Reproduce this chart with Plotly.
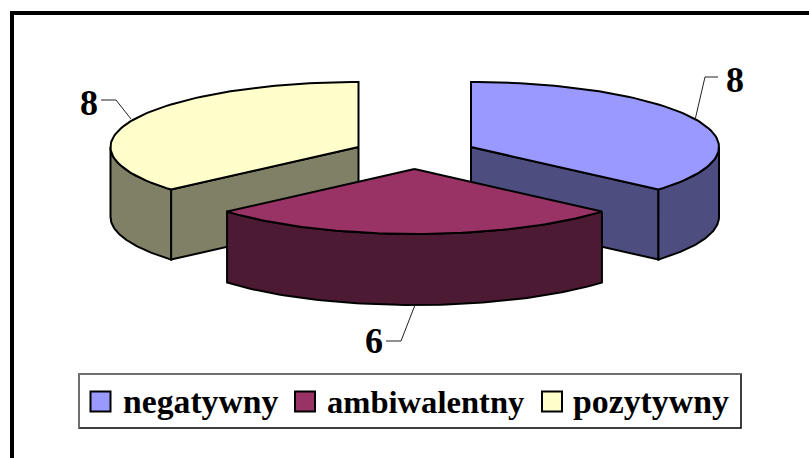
import math
import plotly.graph_objects as go

# Data
categories = ["negatywny", "ambiwalentny", "pozytywny"]
values = [8, 6, 8]

# Styling / geometry
top_colors = ["#9999FF", "#993366", "#FFFFCC"]
side_colors = ["#4D4D80", "#4D1A33", "#808066"]
centers = [(471, 147), (414.5, 169), (358.5, 147)]
depths = [70, 71, 70]
RX, RY = 248, 65
FONT = "Liberation Serif"
W, H = 809, 458

fig = go.Figure()


def pt(c, deg, dz=0):
    r = math.radians(deg)
    return c[0] + RX * math.sin(r), c[1] - RY * math.cos(r) + dz


def arc(c, a, b, dz=0, n=80):
    return [pt(c, a + (b - a) * i / n, dz) for i in range(n + 1)]


def poly(points, color, name):
    xs = [p[0] for p in points] + [points[0][0]]
    ys = [p[1] for p in points] + [points[0][1]]
    fig.add_trace(go.Scatter(x=xs, y=ys, mode="lines", fill="toself", fillcolor=color,
                             line=dict(color="black", width=2), name=name,
                             hoverinfo="skip", showlegend=False))


total = sum(values)
spans = []
acc = 0
for v in values:
    spans.append((acc, acc + v / total * 360))
    acc += v / total * 360

for i in [2, 0, 1]:
    c, (a, b) = centers[i], spans[i]
    d = depths[i]
    # cut faces
    if i == 0:
        poly([c, pt(c, b), pt(c, b, d), (c[0], c[1] + d)], side_colors[i], categories[i])
    if i == 2:
        poly([c, pt(c, a), pt(c, a, d), (c[0], c[1] + d)], side_colors[i], categories[i])
    # outer wall, front-facing part only
    wa, wb = max(a, 90), min(b, 270)
    poly(arc(c, wa, wb) + arc(c, wb, wa, d), side_colors[i], categories[i])
    # top face
    poly([c] + arc(c, a, b), top_colors[i], categories[i])

# Leader lines and data labels
leaders = [
    ([695, 705, 718], [120, 77, 77], 735, 83),
    ([415, 401, 386], [305, 341, 341], 374, 344),
    ([131, 116, 101], [119, 100, 100], 89, 106),
]
for i, (lx, ly, tx, ty) in enumerate(leaders):
    fig.add_trace(go.Scatter(x=lx, y=ly, mode="lines", line=dict(color="#222222", width=1),
                             hoverinfo="skip", showlegend=False))
    fig.add_trace(go.Scatter(x=[tx], y=[ty], mode="text", text=[str(values[i])],
                             textposition="middle center",
                             textfont=dict(family=FONT, size=36, color="black", weight="bold"),
                             hoverinfo="skip", showlegend=False))

# Legend
swatch_x = [100.5, 305, 552]
text_x = [123, 327, 573]
text_sizes = [33.7, 32.6, 33.8]
for i in range(3):
    fig.add_trace(go.Scatter(x=[swatch_x[i]], y=[401.5], mode="markers",
                             marker=dict(symbol="square", size=20, color=top_colors[i],
                                         line=dict(color="black", width=2)),
                             hoverinfo="skip", showlegend=False))
    fig.add_trace(go.Scatter(x=[text_x[i]], y=[405], mode="text", text=[categories[i]],
                             textposition="middle right",
                             textfont=dict(family=FONT, size=text_sizes[i], color="black", weight="bold"),
                             hoverinfo="skip", showlegend=False))

shapes = [
    dict(type="path", path=f"M 12 {H+20} L 12 13 L {W+20} 13", line=dict(color="black", width=4), layer="below"),
    dict(type="rect", x0=79, y0=374, x1=741, y1=428, fillcolor="white", line=dict(color="black", width=1.5), layer="below"),
    dict(type="path", path="M 79 428 L 79 374 L 741 374", line=dict(color="#808080", width=1.5), layer="below"),
]

fig.update_layout(
    width=W, height=H, margin=dict(l=0, r=0, t=0, b=0),
    paper_bgcolor="white", plot_bgcolor="white", showlegend=False, shapes=shapes,
    xaxis=dict(range=[0, W], visible=False, fixedrange=True),
    yaxis=dict(range=[H, 0], visible=False, fixedrange=True),
)
fig.write_html("out.html", config=dict(displayModeBar=False),
               post_script="document.body.style.margin='0';")
